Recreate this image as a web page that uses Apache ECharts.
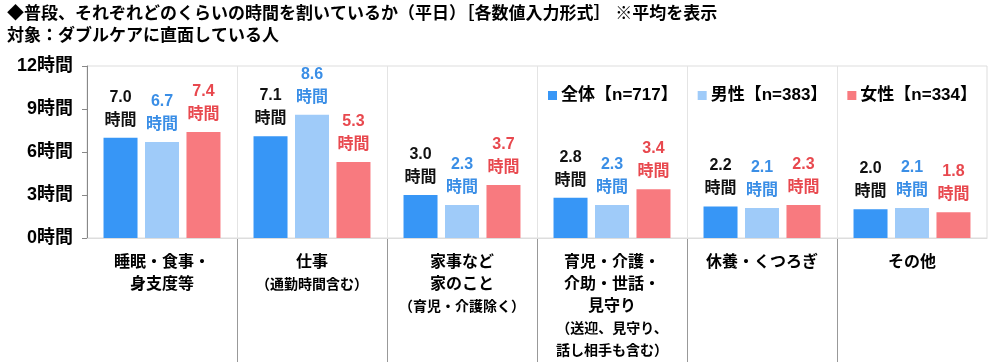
<!DOCTYPE html>
<html><head><meta charset="utf-8">
<script src="https://cdn.jsdelivr.net/npm/echarts@6/dist/echarts.min.js"></script>
<style>html,body{margin:0;padding:0;background:#fff}#c{width:1000px;height:362px}</style>
</head><body><div id="c"></div>
<script>
const categories = ['睡眠・食事・\n身支度等', '仕事\n（通勤時間含む）', '家事など\n家のこと\n（育児・介護除く）', '育児・介護・\n介助・世話・\n見守り\n（送迎、見守り、\n話し相手も含む）', '休養・くつろぎ', 'その他'];
const catMainLines = [2, 1, 2, 3, 1, 1];
const seriesNames = ['全体【n=717】', '男性【n=383】', '女性【n=334】'];
const totalValues = [7.0, 7.1, 3.0, 2.8, 2.2, 2.0];
const maleValues = [6.7, 8.6, 2.3, 2.3, 2.1, 2.1];
const femaleValues = [7.4, 5.3, 3.7, 3.4, 2.3, 1.8];
const yTicks = [0, 3, 6, 9, 12];

const FONT = '"Liberation Sans", "Noto Sans CJK JP", sans-serif';
const barColors = ['#3796f6', '#9fcbf9', '#f87a7f'];
const labelColors = ['#111111', '#3a8ee6', '#e8484e'];
const chart = echarts.init(document.getElementById('c'));

function makeSeries(name, data, i) {
  return {
    name: name, type: 'bar', data: data, barWidth: 34, barGap: '22%',
    itemStyle: { color: barColors[i] },
    label: {
      show: true, position: 'top', distance: 6,
      formatter: p => p.value.toFixed(1) + '\n時間',
      color: labelColors[i], fontFamily: FONT, fontWeight: 'bold', fontSize: 16, lineHeight: 23
    }
  };
}

chart.setOption({
  animation: false,
  title: {
    text: '◆普段、それぞれどのくらいの時間を割いているか（平日）［各数値入力形式］ ※平均を表示',
    subtext: '対象：ダブルケアに直面している人',
    left: 2, top: 1, itemGap: 5,
    textStyle: { fontFamily: FONT, fontSize: 17, fontWeight: 'bold', color: '#000' },
    subtextStyle: { fontFamily: FONT, fontSize: 17, fontWeight: 'bold', color: '#000' }
  },
  legend: {
    data: seriesNames, left: 543, top: 82, itemWidth: 9, itemHeight: 9, itemGap: 20, icon: 'rect',
    textStyle: { fontFamily: FONT, fontSize: 17, fontWeight: 'bold', color: '#000', padding: [0, 0, 0, -1] }
  },
  grid: [
    { left: 87, right: 13, top: 66, bottom: 124, show: true, borderColor: '#dddddd', borderWidth: 1 },
    { left: 87, right: 13, top: 238, bottom: 0 }
  ],
  xAxis: [
    {
      type: 'category', data: categories, gridIndex: 0,
      axisLine: { show: true, lineStyle: { color: '#dddddd' } },
      axisTick: { show: false },
      splitLine: { show: true, showMinLine: false, showMaxLine: false, lineStyle: { color: '#e4e4e4' } },
      axisLabel: {
        margin: 14, interval: 0,
        formatter: (v, idx) => {
          const lines = v.split('\n');
          const n = catMainLines[idx];
          return lines.map((l, k) => k < n ? '{m|' + l + '}' : '{s|' + l + '}').join('\n');
        },
        rich: {
          m: { fontFamily: FONT, fontSize: 16, fontWeight: 'bold', color: '#000', lineHeight: 22 },
          s: { fontFamily: FONT, fontSize: 14, fontWeight: 'bold', color: '#000', lineHeight: 22 }
        }
      }
    },
    {
      type: 'category', data: categories, gridIndex: 1,
      axisLine: { show: false }, axisTick: { show: false }, axisLabel: { show: false },
      splitLine: { show: true, showMinLine: false, showMaxLine: false, lineStyle: { color: '#999999' } }
    }
  ],
  yAxis: [
    {
      type: 'value', min: 0, max: 12, interval: 3, gridIndex: 0,
      axisLine: { show: true, lineStyle: { color: '#888888' } },
      axisTick: { show: true, length: 5, lineStyle: { color: '#888888' } },
      splitLine: { show: false },
      axisLabel: {
        margin: 14, color: '#000', fontFamily: FONT, fontSize: 18, fontWeight: 'bold',
        customValues: yTicks,
        formatter: v => v + '時間'
      }
    },
    { type: 'value', gridIndex: 1, show: false }
  ],
  series: [
    makeSeries(seriesNames[0], totalValues, 0),
    makeSeries(seriesNames[1], maleValues, 1),
    makeSeries(seriesNames[2], femaleValues, 2)
  ]
});
</script></body></html>
